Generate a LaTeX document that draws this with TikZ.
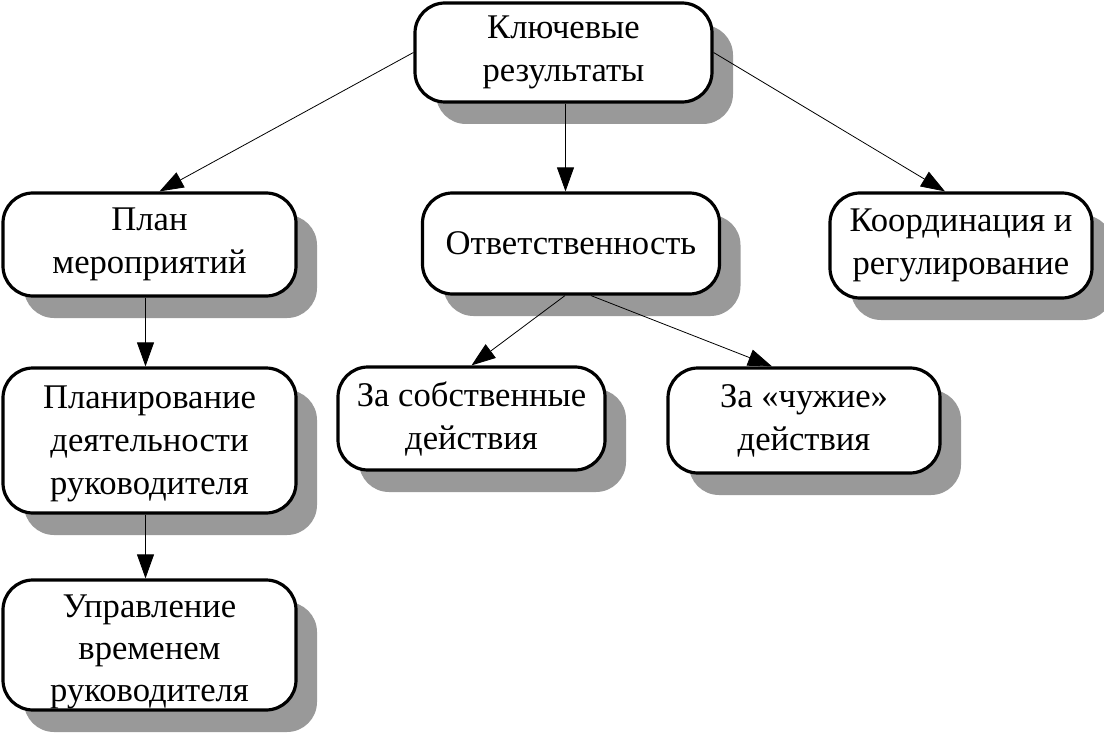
\documentclass[tikz,border=0pt]{standalone}
\usepackage{fontspec}
\setmainfont{Liberation Serif}
\usepackage{tikz}
\usetikzlibrary{shadows,arrows.meta}
\tikzset{-{Triangle[length=12pt,width=8.5pt]},line width=0.6pt,
  blok/.style={draw,line width=1.6pt,rounded corners=15pt,fill=white,align=center,
    inner sep=0pt,font=\fontsize{17.3}{21.5}\selectfont,
    drop shadow={shadow xshift=10.5pt,shadow yshift=-11pt,fill=black!40,opacity=1}}}

\begin{document}
\begin{tikzpicture}[x=0.5pt,y=-0.5pt]
    \useasboundingbox (0,0) rectangle (1104,738);
    \node[blok,minimum width=148.5pt,minimum height=49.5pt] (1) at (563.5,52.5) {Ключевые\\результаты};
    \node[blok,minimum width=146.5pt,minimum height=51.5pt] (2) at (149.5,244.5) {План\\мероприятий};
    \node[blok,minimum width=148.5pt,minimum height=50.5pt] (3) at (571,243.5) {Ответственность};
    \node[blok,minimum width=131pt,minimum height=52.5pt] (4) at (961,245.5) {Координация и\\регулирование};
    \node[blok,minimum width=146.5pt,minimum height=72.5pt] (5) at (149.5,440.5) {\rule{0pt}{15pt}Планирование\\деятельности\\руководителя};
    \node[blok,minimum width=146.5pt,minimum height=65pt,font=\fontsize{17.3}{21}\selectfont] (6) at (149.5,645) {\rule{0pt}{18.5pt}Управление\\временем\\руководителя};
    \node[blok,minimum width=133.5pt,minimum height=51.5pt] (7) at (471.5,418.5) {За собственные\\действия};
    \node[blok,minimum width=136pt,minimum height=52.5pt] (8) at (804,420.5) {За «чужие»\\действия};
    \path
    (1.west) edge ([xshift=5pt]2.north)
    ([xshift=1pt]1.south) edge ([xshift=1pt]1.south |- 3.north)
    (1.east) edge ([xshift=-8pt]4.north)
    ([xshift=-2pt]2.south) edge ([xshift=-2pt]2.south |- 5.north)
    ([xshift=-2pt]5.south) edge ([xshift=-2pt]5.south |- 6.north)
    ([xshift=-3pt]3.south) edge (7.north)
    ([xshift=10pt]3.south) edge ([xshift=-16pt]8.north)
    ;
\end{tikzpicture}
\end{document}
